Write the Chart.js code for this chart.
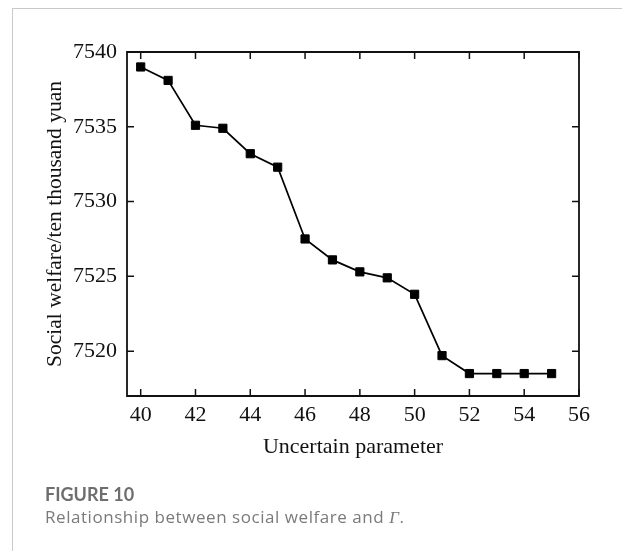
<!DOCTYPE html>
<html>
<head>
<meta charset="utf-8">
<script src="https://cdn.jsdelivr.net/npm/chart.js@4"></script>
<style>
  html, body { margin: 0; padding: 0; background: #fff; width: 622px; height: 551px; overflow: hidden; }
  #frame { position: absolute; left: 12px; top: 8px; width: 700px; height: 700px;
           border-left: 1px solid #c9c9c9; border-top: 1px solid #c9c9c9; }
  #wrap { position: absolute; left: 0; top: 0; width: 622px; height: 551px; }
  .cap { position: absolute; left: 45px; white-space: nowrap; }
  #figno { top: 483px; font-family: Lato, "Open Sans", sans-serif; font-size: 18px; font-weight: 700; color: #6e6e6e; }
  #figtxt { top: 505px; font-family: "Open Sans", Lato, sans-serif; font-size: 17px; letter-spacing: 0.55px; color: #7a7a7a; }
  #figtxt i { font-family: "Liberation Serif", serif; }
</style>
</head>
<body>
<div id="frame"></div>
<div id="wrap"><canvas id="c" width="622" height="551"></canvas></div>
<div class="cap" id="figno">FIGURE 10</div>
<div class="cap" id="figtxt">Relationship between social welfare and <i>Γ</i>.</div>
<script>
// Uncertain parameter values and the resulting social welfare (ten thousand yuan)
const gammaValues = [40, 41, 42, 43, 44, 45, 46, 47, 48, 49, 50, 51, 52, 53, 54, 55];
const welfareValues = [7539.0, 7538.1, 7535.1, 7534.9, 7533.2, 7532.3, 7527.5, 7526.1,
                       7525.3, 7524.9, 7523.8, 7519.7, 7518.5, 7518.5, 7518.5, 7518.5];

// Labelled tick positions on each axis
const xTickValues = [40, 42, 44, 46, 48, 50, 52, 54, 56];
const yTickValues = [7520, 7525, 7530, 7535, 7540];

const serif = "'Liberation Serif', 'Times New Roman', serif";
const ink = '#111';

// Closed frame around the plot with short inward ticks on all four sides
const boxedAxes = {
  id: 'boxedAxes',
  beforeDatasetsDraw(chart) {
    const { ctx, chartArea: a, scales: { x, y } } = chart;
    const len = 7;
    ctx.save();
    ctx.strokeStyle = ink;
    ctx.lineWidth = 1.8;
    ctx.beginPath();
    ctx.rect(a.left, a.top, a.right - a.left, a.bottom - a.top);
    ctx.stroke();
    ctx.lineWidth = 1.5;
    ctx.beginPath();
    xTickValues.forEach(v => {
      const px = x.getPixelForValue(v);
      ctx.moveTo(px, a.bottom); ctx.lineTo(px, a.bottom - len);
      ctx.moveTo(px, a.top); ctx.lineTo(px, a.top + len);
    });
    yTickValues.forEach(v => {
      const py = y.getPixelForValue(v);
      ctx.moveTo(a.left, py); ctx.lineTo(a.left + len, py);
      ctx.moveTo(a.right, py); ctx.lineTo(a.right - len, py);
    });
    ctx.stroke();
    ctx.restore();
  }
};

new Chart(document.getElementById('c'), {
  type: 'line',
  data: {
    datasets: [{
      data: gammaValues.map((g, i) => ({ x: g, y: welfareValues[i] })),
      borderColor: '#000',
      borderWidth: 1.7,
      tension: 0,
      pointStyle: 'rect',
      pointRadius: 5.8,
      pointBackgroundColor: '#000',
      pointBorderColor: '#000',
      pointBorderWidth: 1
    }]
  },
  options: {
    responsive: false,
    animation: false,
    devicePixelRatio: 1,
    layout: { padding: { top: 52, right: 43, bottom: 0, left: 0 } },
    plugins: { legend: { display: false }, tooltip: { enabled: false } },
    scales: {
      x: {
        type: 'linear',
        min: 39.5,
        max: 56,
        grid: { display: false, drawTicks: false },
        border: { display: false },
        afterBuildTicks: s => { s.ticks = xTickValues.map(v => ({ value: v })); },
        afterFit: s => { s.height = 155; },
        ticks: { color: ink, padding: 6, maxRotation: 0, autoSkip: false,
                 callback: v => String(v),
                 font: { family: serif, size: 22 } },
        title: { display: true, text: 'Uncertain parameter', color: ink,
                 font: { family: serif, size: 22 }, padding: { top: 0, bottom: 91 } }
      },
      y: {
        min: 7517,
        max: 7540,
        grid: { display: false, drawTicks: false },
        border: { display: false },
        afterBuildTicks: s => { s.ticks = yTickValues.map(v => ({ value: v })); },
        afterFit: s => { s.width = 127; },
        ticks: { color: ink, padding: 10, callback: v => String(v),
                 font: { family: serif, size: 22 } },
        title: { display: true, text: 'Social welfare/ten thousand yuan', color: ink,
                 font: { family: serif, size: 21.5 }, padding: { top: 42, bottom: 0 } }
      }
    }
  },
  plugins: [boxedAxes]
});
</script>
</body>
</html>
